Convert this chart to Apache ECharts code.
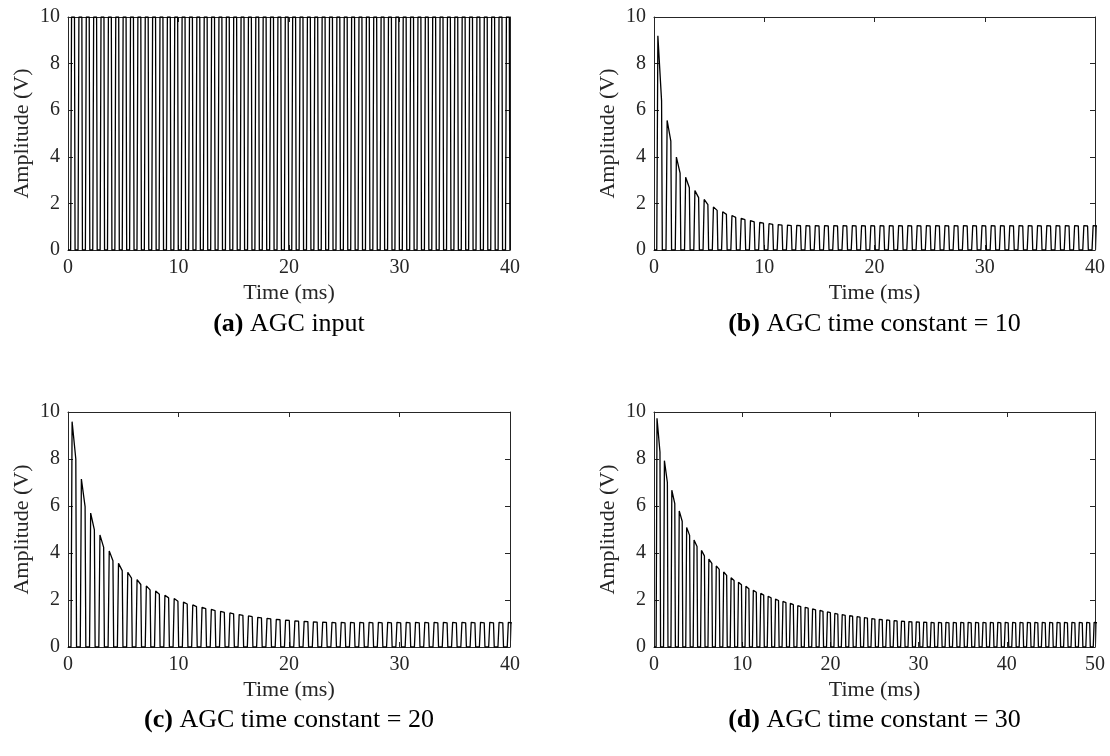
<!DOCTYPE html>
<html>
<head>
<meta charset="utf-8">
<script src="https://cdn.jsdelivr.net/npm/echarts@6/dist/echarts.min.js"></script>
<style>html,body{margin:0;padding:0;background:#fff}#c{width:1110px;height:756px}</style>
</head>
<body>
<div id="c"></div>
<script>
// ---- data ----
const captions = [
  ['(a)', ' AGC input'],
  ['(b)', ' AGC time constant = 10'],
  ['(c)', ' AGC time constant = 20'],
  ['(d)', ' AGC time constant = 30']
];
const xMaxes = [40, 40, 40, 50];
const xTicks = [0, 10, 20, 30, 40, 50];
const yTicks = [0, 2, 4, 6, 8, 10];
const pulsePeriods = [0.667, 0.84, 0.84, 0.84]; // ms
const firstPulseStart = [0.24, 0.25, 0.27, 0.24]; // ms

const peaksA = [10,10,10,10,10,10,10,10,10,10,10,10,10,10,10,10,10,10,10,10,
                10,10,10,10,10,10,10,10,10,10,10,10,10,10,10,10,10,10,10,10,
                10,10,10,10,10,10,10,10,10,10,10,10,10,10,10,10,10,10,10,10];
const tailsA = [10,10,10,10,10,10,10,10,10,10,10,10,10,10,10,10,10,10,10,10,
                10,10,10,10,10,10,10,10,10,10,10,10,10,10,10,10,10,10,10,10,
                10,10,10,10,10,10,10,10,10,10,10,10,10,10,10,10,10,10,10,10];

const peaksB = [9.19,5.56,3.99,3.12,2.55,2.17,1.85,1.64,1.48,1.36,1.26,1.18,1.13,1.09,1.07,1.06,
                1.05,1.05,1.05,1.05,1.05,1.05,1.05,1.05,1.05,1.05,1.05,1.05,1.05,1.05,1.05,1.05,
                1.05,1.05,1.05,1.05,1.05,1.05,1.05,1.05,1.05,1.05,1.05,1.05,1.05,1.05,1.05,1.05];
const tailsB = [6.4,4.67,3.30,2.67,2.25,1.95,1.70,1.53,1.40,1.30,1.21,1.15,1.10,1.07,1.05,1.04,
                1.03,1.03,1.03,1.03,1.03,1.03,1.03,1.03,1.03,1.03,1.03,1.03,1.03,1.03,1.03,1.03,
                1.03,1.03,1.03,1.03,1.03,1.03,1.03,1.03,1.03,1.03,1.03,1.03,1.03,1.03,1.03,1.03];

const peaksC = [9.59,7.15,5.70,4.77,4.09,3.56,3.18,2.87,2.60,2.38,2.20,2.06,1.91,1.79,1.69,1.60,
                1.52,1.45,1.38,1.32,1.26,1.22,1.18,1.14,1.11,1.09,1.07,1.06,1.05,1.05,1.05,1.05,
                1.05,1.05,1.05,1.05,1.05,1.05,1.05,1.05,1.05,1.05,1.05,1.05,1.05,1.05,1.05,1.05];
const tailsC = [8.0,5.97,4.98,4.24,3.67,3.25,2.93,2.66,2.43,2.24,2.09,1.95,1.83,1.72,1.63,1.55,
                1.47,1.41,1.35,1.29,1.24,1.20,1.16,1.13,1.10,1.08,1.06,1.05,1.03,1.03,1.03,1.03,
                1.03,1.03,1.03,1.03,1.03,1.03,1.03,1.03,1.03,1.03,1.03,1.03,1.03,1.03,1.03,1.03];

const peaksD = [9.73,7.93,6.67,5.79,5.09,4.55,4.11,3.74,3.45,3.19,2.95,2.75,2.58,2.41,2.28,2.16,
                2.04,1.94,1.86,1.76,1.69,1.62,1.56,1.49,1.43,1.38,1.33,1.29,1.25,1.21,1.18,1.15,
                1.12,1.10,1.08,1.07,1.06,1.05,1.05,1.05,1.05,1.05,1.05,1.05,1.05,1.05,1.05,1.05,
                1.05,1.05,1.05,1.05,1.05,1.05,1.05,1.05,1.05,1.05,1.05,1.05];
const tailsD = [8.3,7.0,6.1,5.35,4.75,4.28,3.88,3.56,3.30,3.05,2.83,2.65,2.48,2.33,2.21,2.09,
                1.98,1.89,1.80,1.72,1.65,1.58,1.52,1.46,1.40,1.35,1.31,1.27,1.23,1.19,1.16,1.13,
                1.11,1.09,1.07,1.06,1.05,1.03,1.03,1.03,1.03,1.03,1.03,1.03,1.03,1.03,1.03,1.03,
                1.03,1.03,1.03,1.03,1.03,1.03,1.03,1.03,1.03,1.03,1.03,1.03];

const panelPeaks = [peaksA, peaksB, peaksC, peaksD];
const panelTails = [tailsA, tailsB, tailsC, tailsD];

// ---- build polylines from the pulse tables ----
function pulseTrain(peaks, tails, P, t0) {
  const d = [[0, 0]];
  for (let k = 0; k < peaks.length; k++) {
    const s = t0 + k * P;
    d.push([s, 0], [s + 0.12 * P, peaks[k]], [s + 0.52 * P, tails[k]], [s + 0.6 * P, 0]);
  }
  return d;
}

const FONT = 'Liberation Serif';
const INK = '#262626';
const grids = [
  {left: 68, top: 17, width: 442, height: 233},
  {left: 654, top: 17, width: 441, height: 233},
  {left: 68, top: 412, width: 442, height: 235},
  {left: 654, top: 412, width: 441, height: 235}
];

const xAxis = [], yAxis = [], series = [], graphic = [];
grids.forEach((g, i) => {
  const xm = xMaxes[i];
  const line = {show: true, onZero: false, lineStyle: {color: INK, width: 1}};
  const tick = {show: true, inside: true, length: 5, lineStyle: {color: INK}};
  const common = {type: 'value', min: 0, max: xm, interval: xTicks[1] - xTicks[0], gridIndex: i,
    axisLine: line, axisTick: tick, splitLine: {show: false}};
  xAxis.push(Object.assign({}, common, {position: 'bottom',
    axisLabel: {show: true, fontFamily: FONT, fontSize: 20, color: INK, margin: 8,
      formatter: v => xTicks.includes(v) ? String(v) : ''},
    name: 'Time (ms)', nameLocation: 'middle', nameGap: 32,
    nameTextStyle: {fontFamily: FONT, fontSize: 22, color: INK}}));
  xAxis.push(Object.assign({}, common, {position: 'top', axisLabel: {show: false}}));
  const ycommon = {type: 'value', min: yTicks[0], max: yTicks[yTicks.length - 1],
    interval: yTicks[1] - yTicks[0], gridIndex: i,
    axisLine: line, axisTick: tick, splitLine: {show: false}};
  yAxis.push(Object.assign({}, ycommon, {position: 'left',
    axisLabel: {show: true, fontFamily: FONT, fontSize: 20, color: INK, margin: 8},
    name: 'Amplitude (V)', nameLocation: 'middle', nameGap: 35, nameRotate: 90,
    nameTextStyle: {fontFamily: FONT, fontSize: 22, color: INK}}));
  yAxis.push(Object.assign({}, ycommon, {position: 'right', axisLabel: {show: false}}));
  series.push({type: 'line', xAxisIndex: 2 * i, yAxisIndex: 2 * i,
    data: pulseTrain(panelPeaks[i], panelTails[i], pulsePeriods[i], firstPulseStart[i]),
    showSymbol: false, symbol: 'none', clip: true, animation: false,
    lineStyle: {color: '#000', width: 1.3}});
  graphic.push({type: 'text', x: g.left + g.width / 2, y: i < 2 ? 324 : 720,
    style: {text: '{b|' + captions[i][0] + '}{n|' + captions[i][1] + '}',
      align: 'center', verticalAlign: 'middle',
      rich: {b: {fontFamily: FONT, fontSize: 26, fontWeight: 'bold', fill: '#000'},
             n: {fontFamily: FONT, fontSize: 26, fill: '#000'}}}});
});

const chart = echarts.init(document.getElementById('c'), null, {renderer: 'canvas'});
chart.setOption({animation: false, backgroundColor: '#fff', grid: grids, xAxis, yAxis, series, graphic});
</script>
</body>
</html>
